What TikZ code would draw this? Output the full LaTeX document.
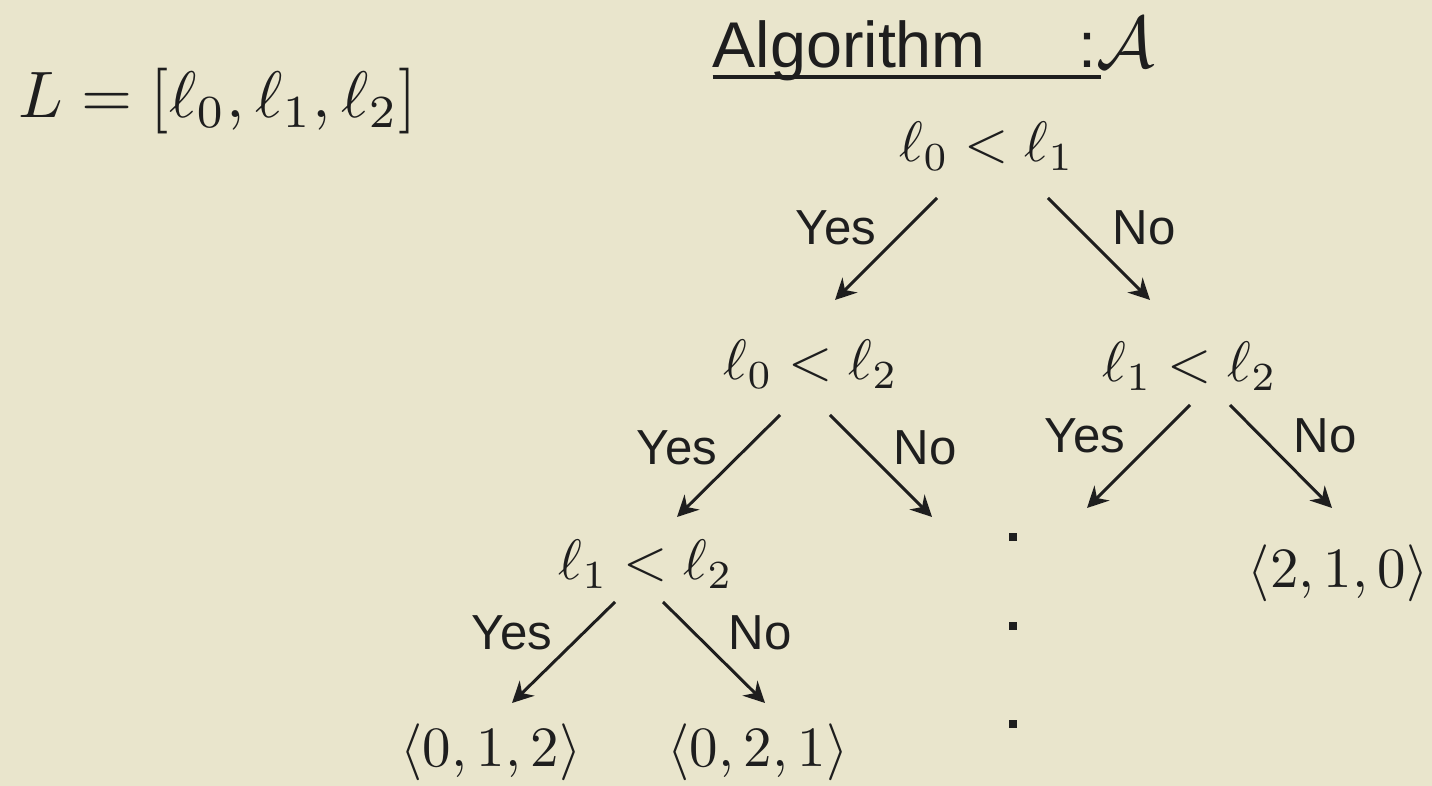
\documentclass[tikz,border=0pt]{standalone}
\usepackage{fontspec}
\setsansfont{Liberation Sans}
\usepackage{graphicx}
\usepackage{tikz}
\usetikzlibrary{arrows.meta, positioning, calc}

\definecolor{paper}{RGB}{233,229,204}
\definecolor{ink}{RGB}{30,30,30}

\newcommand{\bigmath}[1]{\scalebox{1.62}{$#1$}}

\tikzset{
	mathtext/.style={text=ink, inner sep=0pt, anchor=base}
}
\tikzset{
	answer/.style={font=\sffamily\fontsize{14}{16}\selectfont, text=ink, inner sep=0pt, anchor=base}
}
\tikzset{
	branch/.style={draw=ink, line width=0.85pt, -{Stealth[length=6pt, width=6pt, inset=2pt]}}
}
\tikzset{
	dotsq/.style={fill=ink, minimum size=0.08cm, inner sep=0pt}
}

\begin{document}
\begin{tikzpicture}
      \useasboundingbox (0,0) rectangle (14.32,7.86);
      \fill[paper] (0,0) rectangle (14.32,7.86);

      % list and title
      \node[mathtext, anchor=base west] (list) at (0.18,6.68) {\scalebox{1.87}{$L=[\ell_0,\ell_1,\ell_2]$}};
      \node[inner sep=0pt, anchor=base west, text=ink] (title) at (7.12,7.18)
        {\rlap{\rule[-0.11cm]{3.88cm}{0.04cm}}\sffamily\fontsize{18.4}{22}\selectfont Algorithm\hspace{0.93cm}:{\fontsize{20}{24}\selectfont$\mathcal{A}$}};

      % comparisons
      \node[mathtext] (root) at (9.87,6.24) {\bigmath{\ell_0<\ell_1}};
      \node[mathtext] (lt) at (8.11,4.06) {\bigmath{\ell_0<\ell_2}};
      \node[mathtext] (rt) at (11.90,4.04) {\bigmath{\ell_1<\ell_2}};
      \node[mathtext] (ltl) at (6.46,2.06) {\bigmath{\ell_1<\ell_2}};

      % outcomes
      \node[mathtext] (rtr) at (13.38,1.98) {\bigmath{\langle 2,1,0\rangle}};
      \node[mathtext] (leafa) at (4.91,0.19) {\bigmath{\langle 0,1,2\rangle}};
      \node[mathtext] (leafb) at (7.58,0.19) {\bigmath{\langle 0,2,1\rangle}};

      % free ends
      \coordinate (ltno) at (9.32,2.69);
      \coordinate (rtyes) at (10.87,2.78);

      % branches
      \draw[branch] ([shift={(-0.50,-0.36)}]root.base) -- ([shift={(0.24,0.80)}]lt.base);
      \draw[branch] ([shift={(0.61,-0.36)}]root.base) -- ([shift={(-0.40,0.82)}]rt.base);
      \draw[branch] ([shift={(-0.31,-0.35)}]lt.base) -- ([shift={(0.31,0.63)}]ltl.base);
      \draw[branch] ([shift={(0.19,-0.35)}]lt.base) -- (ltno);
      \draw[branch] ([shift={(0,-0.23)}]rt.base) -- (rtyes);
      \draw[branch] ([shift={(0.40,-0.23)}]rt.base) -- ([shift={(-0.06,0.80)}]rtr.base);
      \draw[branch] ([shift={(-0.31,-0.22)}]ltl.base) -- ([shift={(0.21,0.64)}]leafa.base);
      \draw[branch] ([shift={(0.17,-0.22)}]ltl.base) -- ([shift={(0.07,0.64)}]leafb.base);

      % yes / no labels
      \node[answer] (rooty) at (8.36,5.41) {Yes};
      \node[answer] (rootn) at (11.44,5.41) {No};
      \node[answer] (lty) at (6.77,3.21) {Yes};
      \node[answer] (ltn) at (9.25,3.21) {No};
      \node[answer] (rty) at (10.85,3.33) {Yes};
      \node[answer] (rtn) at (13.25,3.33) {No};
      \node[answer] (ltly) at (5.12,1.36) {Yes};
      \node[answer] (ltln) at (7.60,1.36) {No};

      % vertical dots
      \foreach \i/\y in {1/2.49, 2/1.60, 3/0.62} {
        \node[dotsq] (dot\i) at (10.13,\y) {};
      }
    \end{tikzpicture}
\end{document}
